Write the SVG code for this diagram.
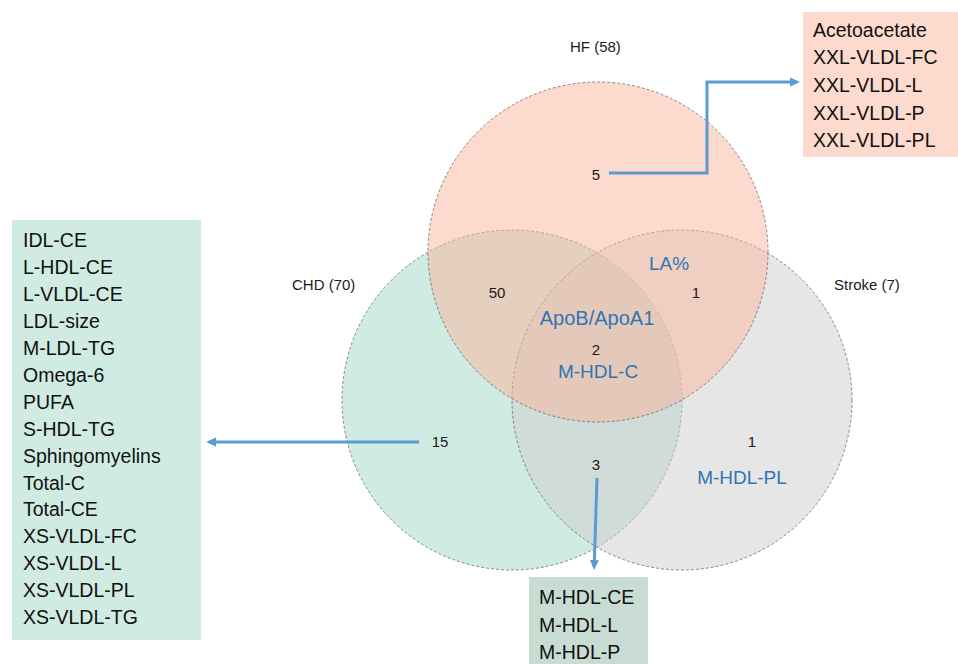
<svg xmlns="http://www.w3.org/2000/svg" width="958" height="664" viewBox="0 0 958 664">
<style>
.circ{stroke:#6b6b6b;stroke-width:0.8;stroke-dasharray:3 2;fill-opacity:0.5}
.lbl{font-family:"Liberation Sans",Arial,sans-serif;font-size:15px;fill:#1a1a1a}
.blue{font-family:"Liberation Sans",Arial,sans-serif;font-size:19px;fill:#2E75B6}
.list{font-family:"Liberation Sans",Arial,sans-serif;font-size:19.5px;fill:#111}
.conn{stroke:#5B9BD5;stroke-width:3;fill:none}
</style>
<defs>
<marker id="ah" viewBox="0 0 10 10" refX="7" refY="5" markerWidth="10" markerHeight="10" markerUnits="userSpaceOnUse" orient="auto">
<path d="M0,0.5 L10,5 L0,9.5 z" fill="#5B9BD5"/>
</marker>
</defs>
<g id="chd">
<circle class="circ" cx="512" cy="400" r="170" fill="#A1D7C5"/>
<text class="lbl" x="292" y="290">CHD (70)</text>
</g>
<g id="stroke">
<circle class="circ" cx="682" cy="400" r="170" fill="#CDCDCD"/>
<text class="lbl" x="834" y="290">Stroke (7)</text>
</g>
<g id="hf">
<circle class="circ" cx="598" cy="252" r="170" fill="#F9B59B"/>
<text class="lbl" x="570" y="52">HF (58)</text>
</g>
<g id="regions">
<text class="lbl" x="596" y="180" text-anchor="middle">5</text>
<text class="lbl" x="497" y="298" text-anchor="middle">50</text>
<text class="lbl" x="696" y="298" text-anchor="middle">1</text>
<text class="blue" x="669" y="270" text-anchor="middle">LA%</text>
<text class="blue" x="597" y="325" text-anchor="middle" style="font-size:20px">ApoB/ApoA1</text>
<text class="lbl" x="596" y="355" text-anchor="middle">2</text>
<text class="blue" x="598" y="378" text-anchor="middle">M-HDL-C</text>
<text class="lbl" x="440" y="447" text-anchor="middle">15</text>
<text class="lbl" x="596" y="470" text-anchor="middle">3</text>
<text class="lbl" x="752" y="447" text-anchor="middle">1</text>
<text class="blue" x="742" y="484" text-anchor="middle">M-HDL-PL</text>
</g>
<g id="box-hf">
<rect x="803" y="12" width="155" height="145" fill="#FCDACD"/>
<text class="list" x="813" y="37">Acetoacetate</text>
<text class="list" x="813" y="64">XXL-VLDL-FC</text>
<text class="list" x="813" y="92">XXL-VLDL-L</text>
<text class="list" x="813" y="120">XXL-VLDL-P</text>
<text class="list" x="813" y="147">XXL-VLDL-PL</text>
</g>
<g id="box-chd">
<rect x="12" y="220" width="189" height="420" fill="#D0ECE2"/>
<text class="list" x="23" y="247">IDL-CE</text>
<text class="list" x="23" y="274">L-HDL-CE</text>
<text class="list" x="23" y="301">L-VLDL-CE</text>
<text class="list" x="23" y="328">LDL-size</text>
<text class="list" x="23" y="355">M-LDL-TG</text>
<text class="list" x="23" y="382">Omega-6</text>
<text class="list" x="23" y="409">PUFA</text>
<text class="list" x="23" y="436">S-HDL-TG</text>
<text class="list" x="23" y="463">Sphingomyelins</text>
<text class="list" x="23" y="490">Total-C</text>
<text class="list" x="23" y="516">Total-CE</text>
<text class="list" x="23" y="543">XS-VLDL-FC</text>
<text class="list" x="23" y="570">XS-VLDL-L</text>
<text class="list" x="23" y="597">XS-VLDL-PL</text>
<text class="list" x="23" y="624">XS-VLDL-TG</text>
</g>
<g id="box-chd-stroke">
<rect x="529" y="577" width="119" height="87" fill="#C8DCD4"/>
<text class="list" x="539" y="604">M-HDL-CE</text>
<text class="list" x="539" y="632">M-HDL-L</text>
<text class="list" x="539" y="659">M-HDL-P</text>
</g>
<g id="connectors">
<path class="conn" d="M609,173 H707 V82 H797" marker-end="url(#ah)"/>
<path class="conn" d="M419,442 H209" marker-end="url(#ah)"/>
<path class="conn" d="M597,478 L594.2,567" marker-end="url(#ah)"/>
</g>
</svg>
